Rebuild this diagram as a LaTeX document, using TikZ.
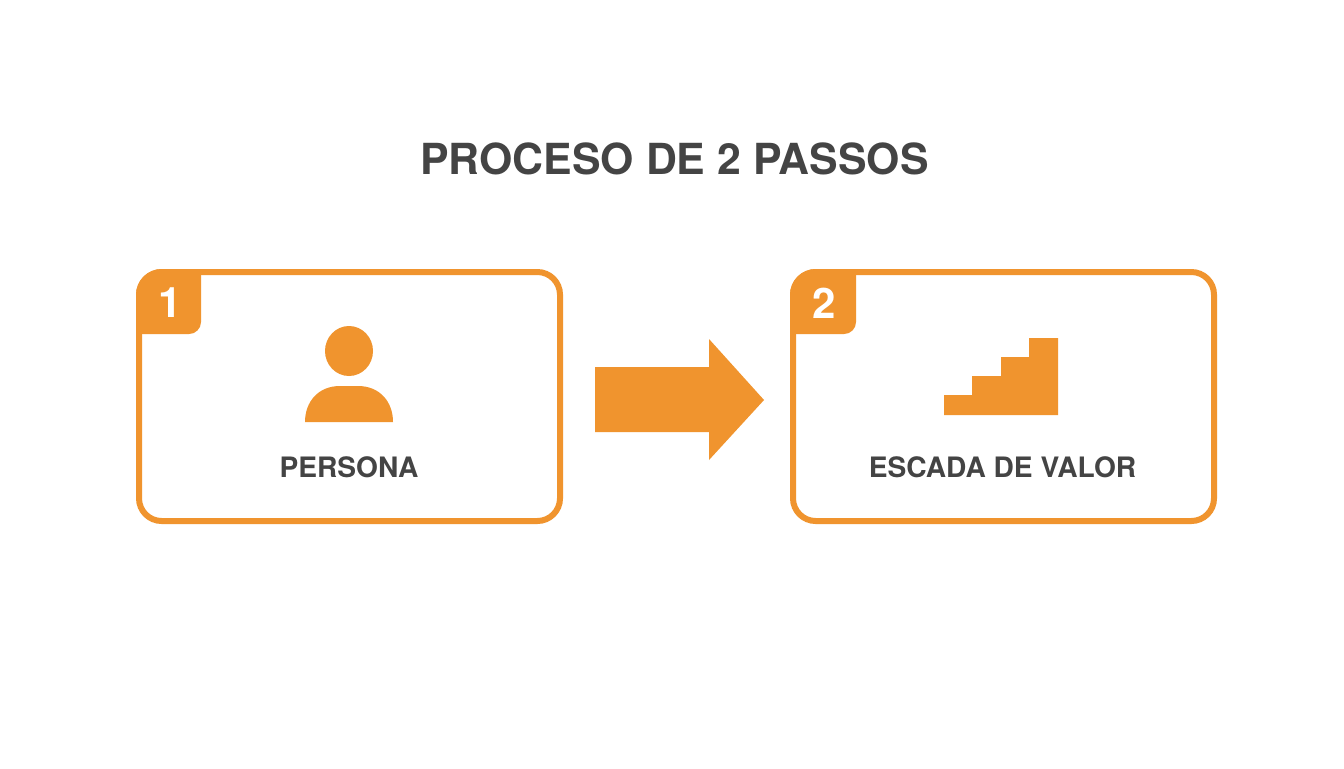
\documentclass[tikz,border=0pt]{standalone}
\usepackage{fontspec}
\setmainfont{TeX Gyre Heros}
\definecolor{brandorange}{HTML}{F0942E}
\definecolor{inkgray}{HTML}{444444}
\tikzset{
  px/.style={x=0.75pt,y=-0.75pt},
  cardbox/.style={draw=brandorange,line width=4.5pt,fill=white,rounded corners=17pt},
  shapefill/.style={fill=brandorange,draw=none},
  titletext/.style={text=inkgray,font=\bfseries\fontsize{32.1}{36}\selectfont,inner sep=0pt},
  labeltext/.style={text=inkgray,font=\bfseries\fontsize{21.1}{24}\selectfont,inner sep=0pt},
  badgetext/.style={text=white,font=\bfseries\fontsize{31.5}{34}\selectfont,inner sep=0pt}
}
\begin{document}
\begin{tikzpicture}[px]
\useasboundingbox (0,0) rectangle (1344,768);
\fill[white] (0,0) rectangle (1344,768);
\node[titletext] (title) at (674.5,158.5) {PROCESO DE 2 PASSOS};
% card 1
\draw[cardbox] (139,272) rectangle (560,521);
\path[shapefill] (136,334) -- (136,295) arc[start angle=180,end angle=270,x radius=26,y radius=26] -- (201,269) -- (201,322) arc[start angle=0,end angle=90,x radius=12,y radius=12] -- cycle;
\node[badgetext] (num1) at (170,303) {1};
\path[shapefill] (349,351) ellipse[x radius=24,y radius=25];
\path[shapefill] (305,422) .. controls (305,402) and (318,386) .. (340,386) -- (358,386) .. controls (380,386) and (393,402) .. (393,422) -- cycle;
\node[labeltext] (persona) at (349,467) {PERSONA};
% block arrow
\path[shapefill] (595,367) -- (709,367) -- (709,339) -- (764,400) -- (709,460) -- (709,432) -- (595,432) -- cycle;
% card 2
\draw[cardbox] (793,272) rectangle (1214,521);
\path[shapefill] (790,334) -- (790,295) arc[start angle=180,end angle=270,x radius=26,y radius=26] -- (856,269) -- (856,322) arc[start angle=0,end angle=90,x radius=12,y radius=12] -- cycle;
\node[badgetext] (num2) at (824.5,303) {2};
\path[shapefill] (944,415) -- (944,395) -- (972,395) -- (972,376) -- (1001,376) -- (1001,357) -- (1029,357) -- (1029,338) -- (1058,338) -- (1058,415) -- cycle;
\node[labeltext] (escada) at (1002.5,467) {ESCADA DE VALOR};
\end{tikzpicture}
\end{document}
